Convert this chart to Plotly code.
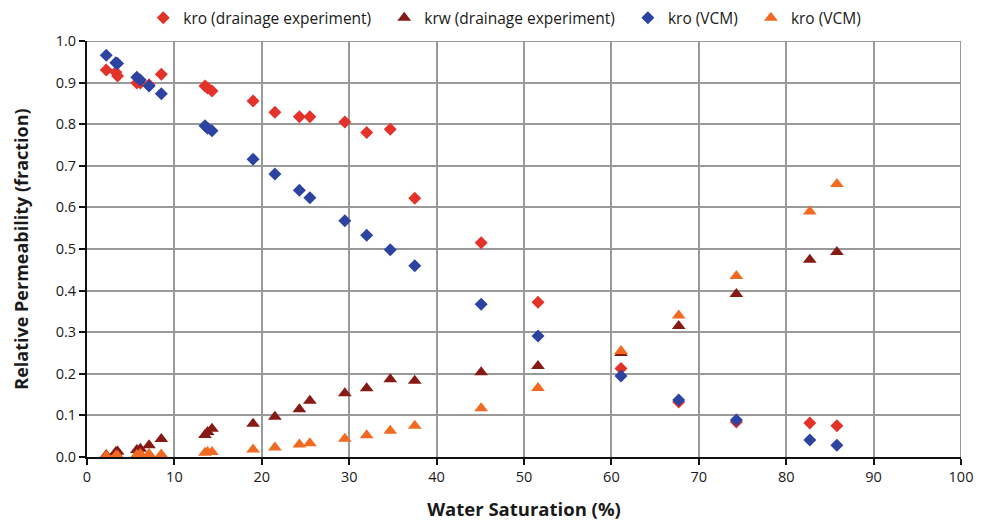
import plotly.graph_objects as go

water_sat = [2.2, 3.3, 3.5, 5.7, 6.1, 7.1, 8.5, 13.5, 13.8, 14.3, 19.0, 21.5, 24.3, 25.5,
             29.5, 32.0, 34.7, 37.5, 45.1, 51.6, 61.1, 67.7, 74.3, 82.7, 85.8]
kro_drainage = [0.930, 0.925, 0.916, 0.899, 0.899, 0.895, 0.920, 0.892, 0.887, 0.880, 0.856,
                0.829, 0.818, 0.818, 0.805, 0.780, 0.788, 0.622, 0.515, 0.372, 0.213, 0.132,
                0.084, 0.082, 0.075]
krw_drainage = [0.005, 0.012, 0.013, 0.017, 0.020, 0.028, 0.043, 0.053, 0.060, 0.068, 0.080,
                0.097, 0.115, 0.135, 0.153, 0.165, 0.187, 0.183, 0.204, 0.219, 0.250, 0.315,
                0.392, 0.474, 0.493]
kro_vcm = [0.966, 0.948, 0.946, 0.913, 0.906, 0.892, 0.873, 0.796, 0.790, 0.784, 0.716,
           0.680, 0.641, 0.623, 0.568, 0.533, 0.498, 0.460, 0.367, 0.291, 0.195, 0.137,
           0.089, 0.041, 0.028]
krw_vcm = [0.003, 0.003, 0.003, 0.005, 0.007, 0.007, 0.006, 0.010, 0.012, 0.012, 0.018,
           0.023, 0.030, 0.033, 0.044, 0.052, 0.063, 0.075, 0.117, 0.166, 0.255, 0.340,
           0.435, 0.590, 0.656]

x_ticks = [0, 10, 20, 30, 40, 50, 60, 70, 80, 90, 100]
y_ticks = [0.0, 0.1, 0.2, 0.3, 0.4, 0.5, 0.6, 0.7, 0.8, 0.9, 1.0]
y_tick_labels = [f"{v:.1f}" for v in y_ticks]

series_names = ["kro (drainage experiment)", "krw (drainage experiment)", "kro (VCM)", "kro (VCM)"]
pad = "\u00a0\u00a0"

series = [
    (series_names[0] + pad, kro_drainage, "diamond", "#E3322A", 10),
    (series_names[1] + pad, krw_drainage, "triangle-up", "#861A14", 12),
    (series_names[2] + pad, kro_vcm, "diamond", "#2C43A2", 10),
    (series_names[3], krw_vcm, "triangle-up", "#F26A21", 12),
]

fig = go.Figure()
for name, vals, sym, col, sz in series:
    fig.add_trace(go.Scatter(
        x=water_sat, y=vals, mode="markers", name=name,
        marker=dict(symbol=sym, color=col, size=sz, line=dict(width=0)),
    ))

font_family = "Open Sans, Liberation Sans, sans-serif"
fig.update_layout(
    width=986, height=521,
    margin=dict(l=87, r=25, t=41, b=64, autoexpand=False),
    plot_bgcolor="white", paper_bgcolor="white",
    font=dict(family=font_family, size=14, color="#1a1a1a"),
    legend=dict(orientation="h", x=0.478, xanchor="center", y=1.055, yanchor="middle",
                font=dict(size=15.5), itemwidth=30, tracegroupgap=0),
    showlegend=True,
)
fig.update_xaxes(
    range=[0, 100], tickvals=x_ticks, ticktext=[str(v) for v in x_ticks],
    showgrid=True, gridcolor="#9A9A9A", gridwidth=2,
    showline=True, linecolor="#111111", linewidth=2,
    ticks="outside", ticklen=6, tickwidth=1.5, tickcolor="#111111",
    zeroline=False,
    title=dict(text="<b>Water Saturation (%)</b>", font=dict(size=18.5), standoff=18),
    tickfont=dict(size=14.5),
)
fig.update_yaxes(
    range=[0, 1.0], tickvals=y_ticks, ticktext=y_tick_labels,
    showgrid=True, gridcolor="#9A9A9A", gridwidth=2,
    showline=True, linecolor="#111111", linewidth=2,
    ticks="outside", ticklen=6, tickwidth=1.5, tickcolor="#111111",
    zeroline=False,
    title=dict(text="<b>Relative Permeability (fraction)</b>", font=dict(size=18), standoff=22),
    tickfont=dict(size=14.5),
)
fig.add_shape(type="line", xref="x", yref="y", x0=100, x1=100, y0=0, y1=1,
              line=dict(color="#9A9A9A", width=2), layer="below")
fig.add_shape(type="line", xref="x", yref="y", x0=0, x1=100, y0=1, y1=1,
              line=dict(color="#9A9A9A", width=2), layer="below")

fig.write_html("out.html")
